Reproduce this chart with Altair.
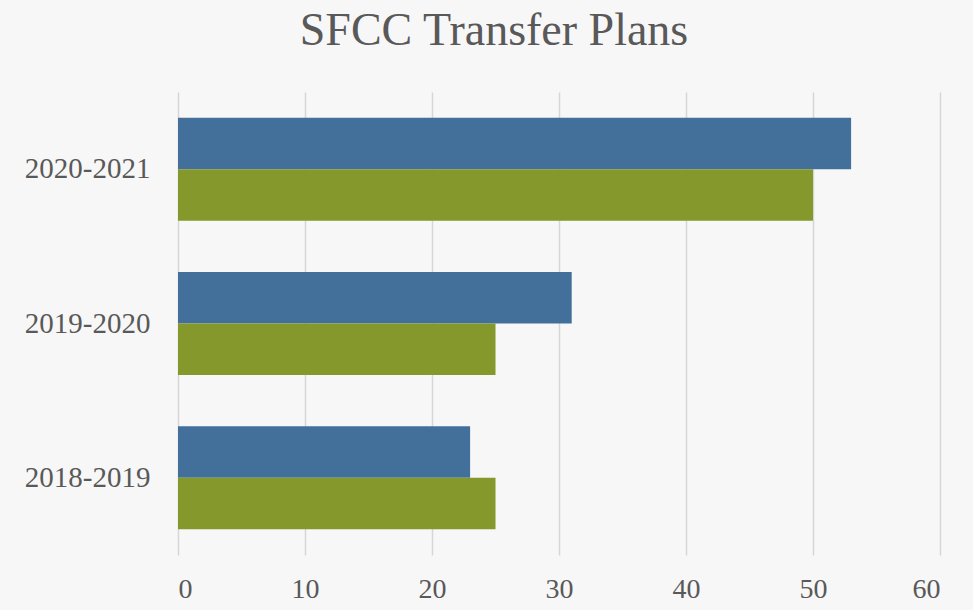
import altair as alt
import pandas as pd

years = ["2020-2021", "2019-2020", "2018-2019"]
series_names = ["Series 1", "Series 2"]
series1_values = [53, 31, 23]
series2_values = [50, 25, 25]
x_ticks = [0, 10, 20, 30, 40, 50, 60]
colors = ["#43709b", "#84982c"]

rows = []
for i, y in enumerate(years):
    rows.append({"year": y, "series": series_names[0], "value": series1_values[i]})
    rows.append({"year": y, "series": series_names[1], "value": series2_values[i]})
df = pd.DataFrame(rows)

FONT = "Liberation Serif"
TXT = "#595959"

chart = alt.Chart(df).mark_bar().encode(
    x=alt.X("value:Q",
            scale=alt.Scale(domain=[0, 60], nice=False),
            axis=alt.Axis(values=x_ticks, title=None, domain=False, ticks=False,
                          grid=True, gridColor="#d6d6d6", gridWidth=1.5,
                          labelFont=FONT, labelFontSize=28, labelColor=TXT,
                          labelPadding=20)),
    y=alt.Y("year:N", sort=years,
            scale=alt.Scale(paddingInner=0.333, paddingOuter=0.1667),
            axis=alt.Axis(title=None, domain=False, ticks=False, grid=False,
                          labelFont=FONT, labelFontSize=29, labelColor=TXT,
                          labelPadding=28)),
    yOffset=alt.YOffset("series:N", sort=series_names),
    color=alt.Color("series:N", sort=series_names,
                    scale=alt.Scale(domain=series_names, range=colors),
                    legend=None),
).properties(
    width=762,
    height=463,
    title=alt.TitleParams("SFCC Transfer Plans", font=FONT, fontSize=46,
                          fontWeight="normal", color=TXT, anchor="middle",
                          dx=-65, offset=37),
    autosize=alt.AutoSizeParams(type="none"),
    padding={"left": 178, "top": 92, "right": 33, "bottom": 55},
).configure(
    background="#f7f7f7"
).configure_view(
    stroke=None
)

chart.save("out.html", embed_options={"renderer": "svg", "actions": False})
